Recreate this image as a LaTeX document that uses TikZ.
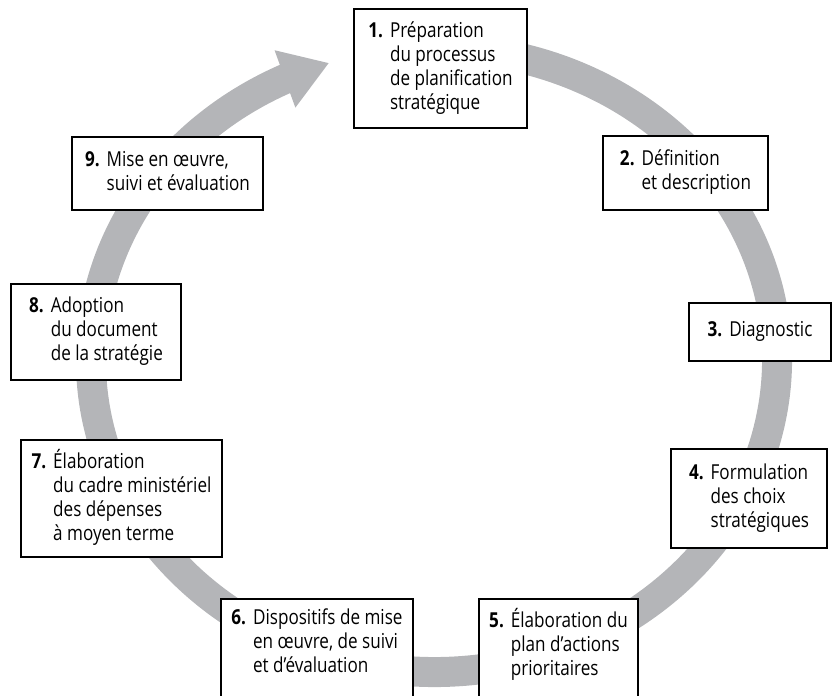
\documentclass[tikz,border=0pt]{standalone}
\usepackage{fontspec}
\setmainfont{Open Sans}[FakeStretch=0.83]
\usetikzlibrary{arrows.meta,bending}
\definecolor{ringgray}{RGB}{180,181,184}
\newcommand{\etape}[2]{\textbf{#1.}\hspace{3.5pt}\begin{tabular}[t]{@{}l@{}}#2\end{tabular}}
\tikzset{%
  etapebox/.style = {shape=rectangle, draw, line width=1pt, fill=white,%
                     inner sep=0pt, font=\fontsize{10.3}{12}\selectfont},%
  cutbox/.style   = {etapebox, anchor=north, inner ysep=4.5pt, text depth=33pt},%
  ring/.style     = {draw=ringgray, line width=15pt}%
}

\begin{document}
\begin{tikzpicture}[x=0.5pt,y=0.5pt]
  \useasboundingbox (0,0) rectangle (833,695);
  \coordinate (c) at (434,335);
  \draw[ring, -{Triangle[width=28.8pt,length=23.5pt,flex]}]
    ([shift={(80:343 and 312)}]c) arc[start angle=80, end angle=-252.2, x radius=343, y radius=312];
  \node[etapebox, minimum width=86.5pt, minimum height=59.5pt] (e1) at (440.5,626.5)
    {\etape{1}{Préparation\\du processus\\de planification\\stratégique}};
  \node[etapebox, minimum width=82.5pt, minimum height=37pt] (e2) at (685.5,522)
    {\etape{2}{Définition\\et description}};
  \node[etapebox, minimum width=71pt, minimum height=29pt] (e3) at (760,363)
    {\etape{3}{Diagnostic}};
  \node[etapebox, minimum width=78pt, minimum height=49.5pt] (e4) at (749,196.5)
    {\etape{4}{Formulation\\des choix\\stratégiques}};
  \node[cutbox, minimum width=79.5pt] (e5) at (558.5,97)
    {\etape{5}{Élaboration du\\plan d’actions\\prioritaires}};
  \node[cutbox, minimum width=96pt] (e6) at (317,97)
    {\etape{6}{Dispositifs de mise\\en œuvre, de suivi\\et d’évaluation}};
  \node[etapebox, minimum width=100.5pt, minimum height=58.5pt] (e7) at (121.5,196.5)
    {\etape{7}{Élaboration\\du cadre ministériel\\des dépenses\\à moyen terme}};
  \node[etapebox, minimum width=85pt, minimum height=48pt] (e8) at (96,363)
    {\etape{8}{Adoption\\du document\\de la stratégie}};
  \node[etapebox, minimum width=95.5pt, minimum height=36.5pt] (e9) at (167.5,521.5)
    {\etape{9}{Mise en œuvre,\\suivi et évaluation}};
\end{tikzpicture}
\end{document}
